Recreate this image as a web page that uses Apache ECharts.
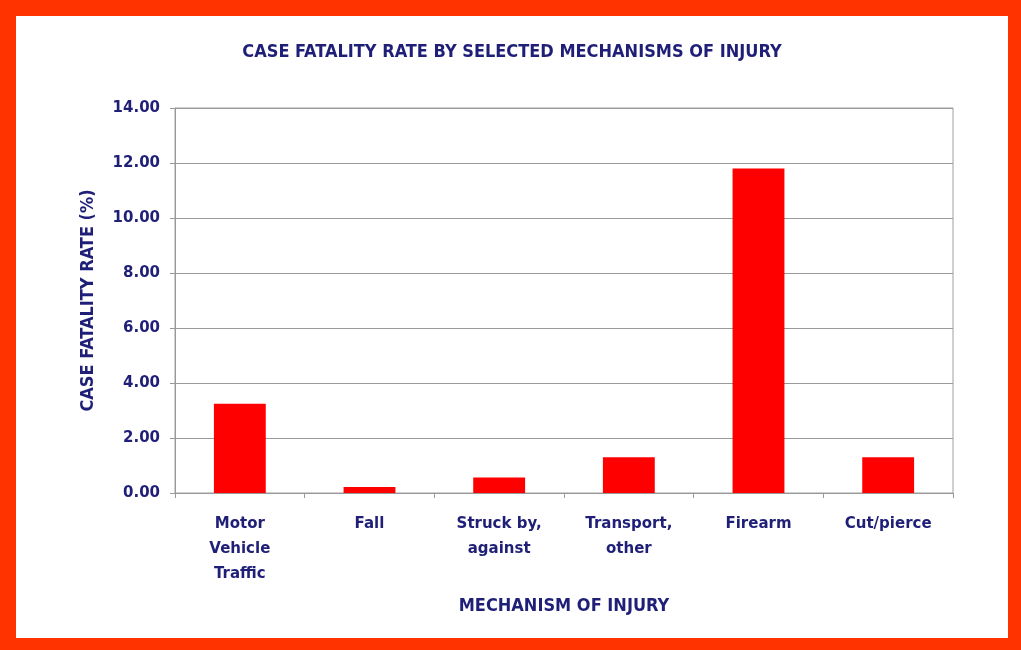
<!DOCTYPE html>
<html><head><meta charset="utf-8">
<script src="https://cdn.jsdelivr.net/npm/echarts@6/dist/echarts.min.js"></script>
<style>
html,body{margin:0;padding:0;}
#outer{position:absolute;left:0;top:0;width:1021px;height:650px;background:#ff3300;}
#chart{position:absolute;left:16px;top:16px;width:992px;height:622px;background:#ffffff;}
</style></head>
<body><div id="outer"><div id="chart"></div></div>
<script>
const categories = ['Motor\nVehicle\nTraffic', 'Fall', 'Struck by,\nagainst', 'Transport,\nother', 'Firearm', 'Cut/pierce'];
const fatalityRate = [3.25, 0.22, 0.56, 1.3, 11.8, 1.3];
const titleText = 'CASE FATALITY RATE BY SELECTED MECHANISMS OF INJURY';
const xName = 'MECHANISM OF INJURY';
const yName = 'CASE FATALITY RATE (%)';
const navy = '#1f1f78';
const chart = echarts.init(document.getElementById('chart'));
chart.setOption({
  backgroundColor: '#ffffff',
  animation: false,
  title: {
    text: titleText, left: 'center', top: 22,
    textStyle: {color: navy, fontSize: 18, fontWeight: 'bold', fontFamily: 'DejaVu Sans Condensed'}
  },
  grid: {left: 159, right: 55, top: 92, bottom: 145, show: true, borderColor: '#a0a0a0', borderWidth: 1, backgroundColor: 'transparent'},
  xAxis: {
    type: 'category', data: categories,
    name: xName, nameLocation: 'middle', nameGap: 104,
    nameTextStyle: {color: navy, fontSize: 18, fontWeight: 'bold', fontFamily: 'DejaVu Sans Condensed'},
    axisLine: {lineStyle: {color: '#999999', width: 1}},
    axisTick: {show: true, alignWithLabel: false, length: 5, lineStyle: {color: '#999999'}},
    axisLabel: {color: navy, fontSize: 15, fontWeight: 'bold', fontFamily: 'DejaVu Sans', lineHeight: 25, margin: 19, interval: 0}
  },
  yAxis: {
    type: 'value', min: 0, max: 14, interval: 2,
    name: yName, nameLocation: 'middle', nameGap: 78, nameRotate: 90,
    nameTextStyle: {color: navy, fontSize: 18, fontWeight: 'bold', fontFamily: 'DejaVu Sans Condensed'},
    axisLine: {show: true, lineStyle: {color: '#999999'}},
    axisTick: {show: true, length: 5, lineStyle: {color: '#999999'}},
    axisLabel: {color: navy, fontSize: 15, fontWeight: 'bold', fontFamily: 'DejaVu Sans', margin: 15, formatter: v => v.toFixed(2)},
    splitLine: {lineStyle: {color: '#9a9a9a', width: 1}}
  },
  series: [{
    type: 'bar', data: fatalityRate, barWidth: '40%',
    itemStyle: {color: '#ff0000'}
  }]
});
</script></body></html>
